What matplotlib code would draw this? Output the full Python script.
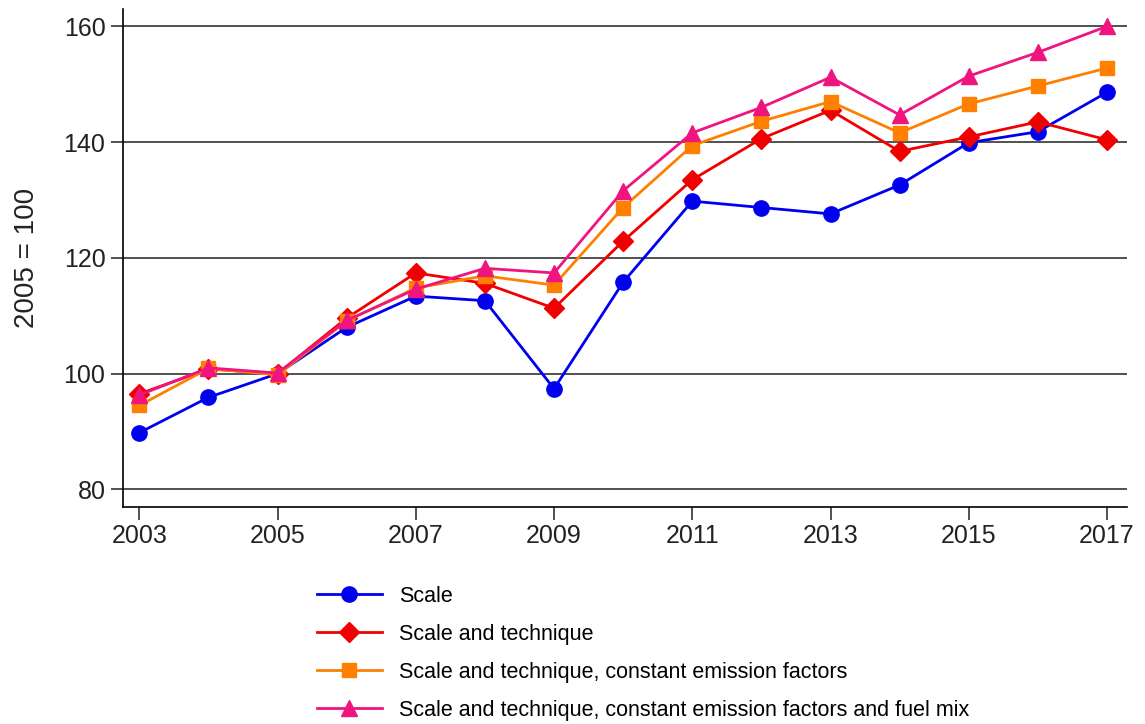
import matplotlib.pyplot as plt

plt.rcParams['font.family'] = ['Liberation Sans', 'DejaVu Sans']

years = list(range(2003, 2018))

scale = [89.8, 95.9, 100.0, 108.0, 113.4, 112.6, 97.4, 115.8, 129.8, 128.7, 127.6, 132.6, 139.9, 141.8, 148.6]
scale_tech = [96.5, 100.8, 100.0, 109.6, 117.4, 115.6, 111.3, 122.9, 133.5, 140.6, 145.5, 138.4, 140.9, 143.5, 140.4]
scale_tech_cef = [94.5, 100.9, 99.8, 109.1, 114.8, 116.9, 115.3, 128.7, 139.4, 143.6, 147.0, 141.6, 146.6, 149.7, 152.8]
scale_tech_cef_fuel = [96.3, 101.0, 100.1, 109.2, 114.6, 118.2, 117.4, 131.6, 141.6, 146.0, 151.2, 144.7, 151.4, 155.5, 160.0]

labels = ['Scale',
          'Scale and technique',
          'Scale and technique, constant emission factors',
          'Scale and technique, constant emission factors and fuel mix']

fig = plt.figure(figsize=(11.45, 7.24), dpi=100)
ax = fig.add_axes([0.1072, 0.300, 0.8771, 0.6876])

ax.plot(years, scale, color='#0000F0', marker='o', markersize=11, lw=2, label=labels[0])
ax.plot(years, scale_tech, color='#F00000', marker='D', markersize=10, lw=2, label=labels[1])
ax.plot(years, scale_tech_cef, color='#FF8000', marker='s', markersize=10, lw=2, label=labels[2])
ax.plot(years, scale_tech_cef_fuel, color='#F0147F', marker='^', markersize=12, lw=2, label=labels[3])

ax.set_xlim(2002.76, 2017.29)
ax.set_ylim(77, 163)
ax.set_xticks(range(2003, 2018, 2))
ax.set_yticks(range(80, 161, 20))
ax.yaxis.grid(True, color='#222222', lw=1.1)
ax.set_axisbelow(True)

for s in ['top', 'right']:
    ax.spines[s].set_visible(False)
ax.spines['left'].set_linewidth(1.2)
ax.spines['bottom'].set_linewidth(1.2)
ax.tick_params(axis='both', labelsize=18, length=9, width=1.1, colors='#222222')
ax.set_ylabel('2005 = 100', fontsize=20, labelpad=17, color='#222222')

fig.legend(loc='upper left', bbox_to_anchor=(0.277, 0.191), frameon=False,
           fontsize=15.5, handlelength=3.0, handletextpad=0.8,
           labelspacing=0.79, borderpad=0, borderaxespad=0)

plt.savefig('out.png', dpi=100)
